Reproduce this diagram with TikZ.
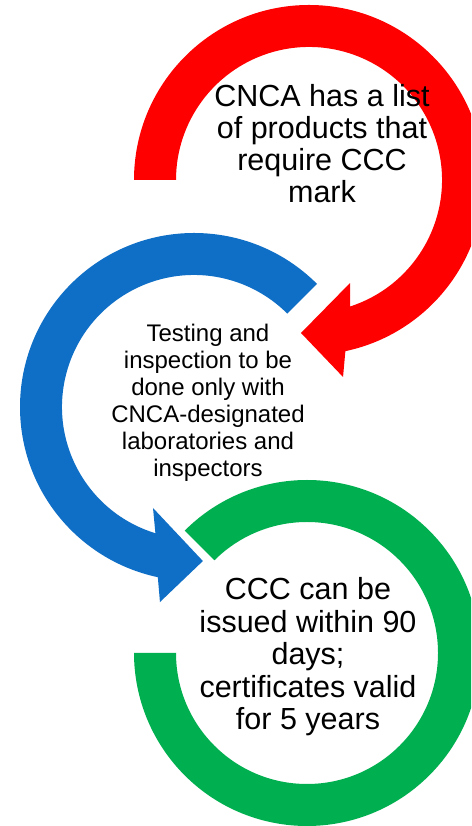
\documentclass[tikz,border=0pt]{standalone}
\usepackage{fontspec}
\setmainfont{Liberation Sans}
\usetikzlibrary{calc}
\definecolor{cred}{HTML}{FF0000}
\definecolor{cblue}{HTML}{0F6FC6}
\definecolor{cgreen}{HTML}{00B050}
\begin{document}
\begin{tikzpicture}[x=1pt,y=1pt,
  lbl/.style={inner sep=0pt, anchor=base, text=black}]
\useasboundingbox (0,0) rectangle (471,826);
\clip (0,0) rectangle (471,826);
\fill[white] (0,0) rectangle (471,826);
\coordinate (rc) at (309,646);
\coordinate (bc) at (194,419);
\coordinate (gc) at (307,173);
% red circular arrow
\fill[cred] ($(rc)+(180:175)$) arc[start angle=180, end angle=-78, radius=175]
  -- ($(rc)+(-80.2:199.9)$) -- ($(rc)+(-93:153.2)$) -- ($(rc)+(-68.3:110.9)$)
  -- ($(rc)+(-72:133)$) arc[start angle=-72, end angle=180, radius=133] -- cycle;
% blue circular arrow
\fill[cblue] ($(bc)+(45:174)$) arc[start angle=45, end angle=258, radius=174]
  -- ($(bc)+(260.1:198)$) -- ($(bc)+(273.3:154.3)$) -- ($(bc)+(247.9:109)$)
  -- ($(bc)+(253:132)$) arc[start angle=253, end angle=45, radius=132] -- cycle;
% green ring
\fill[cgreen] ($(gc)+(135:173)$) arc[start angle=135, end angle=-180, radius=173]
  -- ($(gc)+(180:131)$) arc[start angle=-180, end angle=135, radius=131] -- cycle;
% texts
\node[lbl] (t1) at (322,719) {\fontsize{30.5}{32}\selectfont\begin{tabular}[t]{@{}c@{}}CNCA has a list\\ of products that\\ require CCC\\ mark\end{tabular}};
\node[lbl] (t2) at (208,484) {\fontsize{24}{27}\selectfont\begin{tabular}[t]{@{}c@{}}Testing and\\ inspection to be\\ done only with\\ CNCA-designated\\ laboratories and\\ inspectors\end{tabular}};
\node[lbl] (t3) at (308,226) {\fontsize{30.5}{32.5}\selectfont\begin{tabular}[t]{@{}c@{}}CCC can be\\ issued within 90\\ days;\\ certificates valid\\ for 5 years\end{tabular}};
\end{tikzpicture}
\end{document}
